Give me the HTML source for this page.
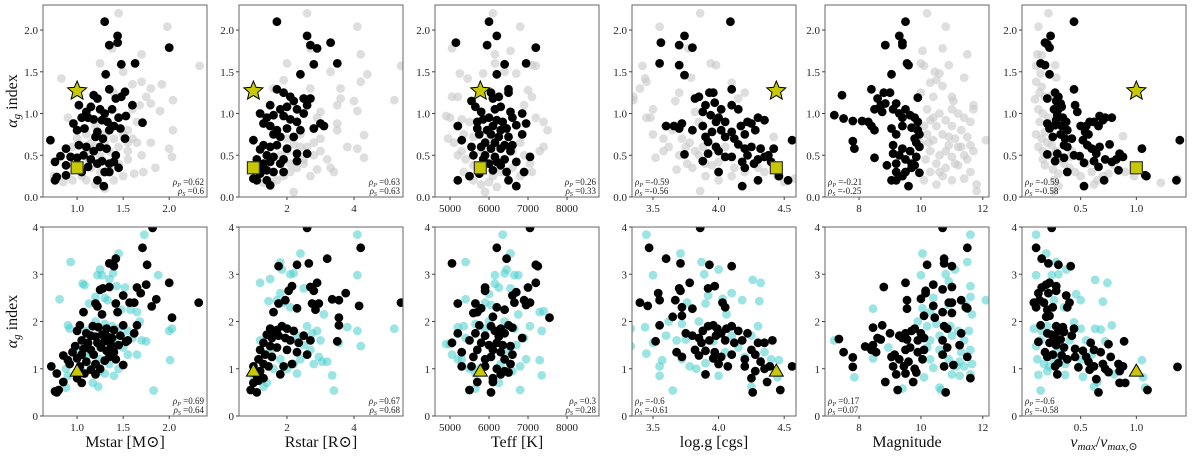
<!DOCTYPE html>
<html><head><meta charset="utf-8"><style>
html,body{margin:0;padding:0;background:#fff;}
svg{display:block;font-family:"Liberation Serif","DejaVu Serif",serif;}
</style></head><body>
<svg id="fig" width="1200" height="459" viewBox="0 0 1200 459" xmlns="http://www.w3.org/2000/svg"></svg>
<script>
// ---------- DATA ----------
const panelVars = ["Mstar","Rstar","Teff","logg","Magnitude","numax"];
const xRanges = [[0.63,2.41],[0.57,5.46],[4615,8820],[3.34,4.59],[6.9,12.2],[-0.027,1.446]];
const xTicks = [[1.0,1.5,2.0],[2,4],[5000,6000,7000,8000],[3.5,4.0,4.5],[8,10,12],[0.5,1.0]];
const xTickLabels = [["1.0","1.5","2.0"],["2","4"],["5000","6000","7000","8000"],["3.5","4.0","4.5"],["8","10","12"],["0.5","1.0"]];
const xTitles = ["Mstar [M\u2609]","Rstar [R\u2609]","Teff [K]","log.g [cgs]","Magnitude",""];
const topYTicks = [0,0.5,1.0,1.5,2.0];
const topYLabels = ["0.0","0.5","1.0","1.5","2.0"];
const botYTicks = [0,1,2,3,4];
const botYLabels = ["0","1","2","3","4"];
const sunX = [1.0,1.0,5777,4.44,null,1.0];
const sunStarY = 1.27;
const sunSquareY = 0.35;
const sunTriY = 0.95;
const topRhoP = ["0.62","0.63","0.26","-0.59","-0.21","-0.59"];
const topRhoS = ["0.6","0.63","0.33","-0.56","-0.25","-0.58"];
const botRhoP = ["0.69","0.67","0.3","-0.6","0.17","-0.6"];
const botRhoS = ["0.64","0.68","0.28","-0.61","0.07","-0.58"];

const topBlack0=[[1.30,2.10],[1.44,1.93],[1.35,1.82],[1.44,1.85],[2.0,1.79],[1.48,1.59],[1.63,1.60],[1.31,1.47],[1.35,1.29],[1.02,1.10],[1.18,1.22],[1.22,1.18],[1.48,1.20],[1.52,1.26],[1.42,1.18],[1.15,1.08],[1.10,1.02],[1.25,1.05],[1.30,1.00],[1.38,1.05],[1.60,1.10],[0.96,0.88],[1.05,0.95],[1.12,0.95],[1.18,0.93],[1.27,0.92],[1.33,0.90],[1.40,0.85],[1.45,0.95],[1.53,0.97],[1.71,0.89],[1.00,0.80],[1.08,0.82],[1.22,0.78],[1.35,0.80],[1.47,0.82],[1.20,0.72],[1.28,0.70],[1.52,0.70],[0.71,0.68],[1.02,0.62],[1.10,0.60],[1.18,0.55],[1.25,0.60],[1.32,0.58],[1.42,0.50],[0.88,0.58],[0.93,0.48],[1.00,0.47],[1.07,0.50],[1.15,0.45],[1.22,0.40],[1.35,0.40],[0.82,0.49],[0.88,0.38],[0.76,0.42],[1.12,0.36],[1.27,0.43],[1.45,0.35],[1.30,0.30],[1.35,0.30],[0.78,0.24],[0.76,0.20],[0.88,0.26],[1.22,0.20],[1.29,0.13],[1.40,0.42],[1.05,0.30]];
const topGrey0=[[1.45,2.20],[1.98,2.04],[1.38,1.78],[2.33,1.57],[2.04,1.16],[1.70,1.71],[0.83,1.42],[1.25,1.60],[1.92,1.35],[1.80,1.30],[1.68,1.10],[1.75,1.20],[1.60,1.05],[1.65,0.90],[1.55,0.80],[1.50,0.75],[1.40,0.70],[1.30,0.65],[1.20,0.60],[1.10,0.55],[0.95,0.60],[0.90,0.95],[1.0,0.70],[1.15,0.65],[1.25,0.50],[1.35,0.55],[1.45,0.60],[1.55,0.45],[1.65,0.65],[1.72,0.30],[1.85,0.35],[2.00,0.58],[2.03,0.48],[2.04,0.80],[1.90,1.03],[1.10,0.20],[1.20,0.15],[1.30,0.10],[1.40,0.20],[1.50,0.25],[0.75,0.25],[0.85,0.18],[0.95,0.20],[1.05,0.25],[1.15,0.35],[1.25,0.30],[1.35,0.35],[1.45,0.40],[1.55,0.55],[1.60,0.70],[1.70,0.50],[1.80,1.12],[1.60,1.35],[1.50,1.50],[1.40,1.25],[1.70,1.38],[1.20,0.85],[1.30,0.75],[1.10,0.75],[1.00,0.40],[1.80,0.65],[1.62,0.28],[1.12,0.45],[1.55,0.65]];
const topBlack1=[[1.7,2.1],[2.6,1.93],[2.7,1.82],[2.9,1.78],[3.3,1.85],[2.8,1.59],[3.5,1.60],[2.4,1.47],[1.7,1.29],[1.9,1.25],[2.1,1.20],[2.5,1.18],[2.7,1.18],[2.2,1.15],[1.5,1.10],[1.8,1.05],[2.0,1.08],[2.3,1.05],[2.5,1.00],[2.6,1.10],[1.2,1.00],[1.4,0.95],[1.6,0.98],[1.9,0.97],[2.1,0.93],[2.3,0.90],[3.0,0.88],[3.1,0.85],[1.3,0.88],[1.5,0.85],[1.7,0.80],[2.0,0.82],[2.4,0.80],[2.8,0.82],[1.6,0.75],[1.8,0.72],[2.2,0.72],[1.0,0.68],[1.3,0.62],[1.5,0.60],[1.7,0.62],[2.0,0.58],[2.3,0.52],[2.6,0.52],[1.2,0.57],[1.4,0.50],[1.6,0.48],[1.9,0.45],[1.1,0.45],[1.3,0.40],[1.5,0.42],[1.8,0.40],[2.3,0.43],[1.2,0.35],[1.4,0.32],[1.6,0.30],[1.9,0.30],[1.0,0.22],[1.1,0.20],[1.4,0.20],[1.5,0.14],[1.2,0.28]];
const topGrey1=[[2.6,2.20],[4.1,2.04],[2.7,1.78],[5.4,1.57],[5.2,1.16],[4.2,1.71],[2.0,1.60],[3.3,1.50],[4.4,1.47],[4.2,1.38],[4.0,1.15],[3.6,1.30],[3.5,1.10],[4.1,1.03],[3.5,0.88],[3.5,0.80],[4.3,0.74],[4.1,0.58],[4.3,0.47],[3.0,0.70],[2.8,0.65],[2.6,0.60],[2.4,0.60],[2.2,0.63],[2.0,0.55],[1.8,0.50],[3.2,0.45],[3.3,0.35],[3.4,0.30],[2.9,0.33],[2.5,0.40],[2.3,0.35],[2.1,0.30],[1.9,0.25],[1.7,0.20],[1.5,0.18],[1.3,0.17],[2.2,0.06],[2.7,0.25],[2.5,0.45],[2.8,0.50],[3.0,0.55],[2.0,0.70],[2.4,0.75],[2.9,0.95],[3.6,1.18],[3.0,1.02],[2.7,1.30],[1.9,1.40],[1.6,1.30],[3.8,0.60],[2.1,0.40]];
const topBlack2=[[6000,2.1],[6200,1.93],[5950,1.82],[5150,1.85],[7200,1.79],[6400,1.59],[6950,1.60],[6200,1.47],[6500,1.29],[6500,1.25],[5550,1.15],[6050,1.25],[6100,1.18],[6250,1.20],[5650,1.08],[5800,1.02],[6150,1.05],[6300,1.08],[6550,1.02],[6850,1.00],[5700,0.90],[5850,0.93],[6000,0.95],[6200,0.92],[6350,0.90],[6600,0.95],[6950,0.88],[5200,0.85],[5700,0.82],[5950,0.80],[6100,0.85],[6300,0.80],[6450,0.82],[6700,0.86],[5750,0.75],[6050,0.75],[6250,0.72],[6500,0.72],[6850,0.75],[5300,0.68],[5900,0.65],[6150,0.65],[6400,0.62],[6600,0.62],[5550,0.60],[5800,0.60],[6050,0.58],[6300,0.58],[6550,0.55],[5600,0.50],[5900,0.50],[6150,0.48],[6400,0.45],[6700,0.42],[7050,0.48],[5850,0.45],[6000,0.40],[6300,0.38],[5750,0.35],[6100,0.32],[6450,0.30],[6900,0.30],[5500,0.25],[5750,0.28],[6500,0.20],[6700,0.13],[5200,0.20],[6200,0.42]];
const topGrey2=[[6100,2.20],[6800,2.04],[5050,1.78],[7200,1.57],[7100,1.58],[6550,1.75],[6150,1.71],[6150,1.60],[5850,1.48],[6400,1.50],[6700,1.48],[5250,1.48],[5450,1.42],[5050,1.20],[5200,1.20],[7000,1.28],[7100,1.20],[6900,1.10],[4900,0.97],[5000,0.95],[5300,0.93],[5500,0.90],[7200,0.95],[7400,0.90],[7500,0.80],[4950,0.70],[5100,0.65],[5350,0.75],[5600,0.72],[7400,0.60],[7300,0.55],[5200,0.50],[5400,0.45],[5600,0.38],[7050,0.40],[5350,0.30],[5600,0.20],[5800,0.15],[6000,0.18],[6200,0.12],[5900,0.06],[6100,0.25],[6300,0.30],[6600,0.35],[6800,0.25],[7100,0.30],[6600,0.55],[6800,0.65],[6900,0.50],[5800,0.55],[6000,0.70],[5300,0.55]];
const topBlack3=[[4.09,2.10],[3.56,1.85],[3.7,1.82],[3.74,1.93],[3.8,1.79],[3.55,1.60],[3.7,1.58],[3.74,1.46],[4.1,1.29],[3.82,1.18],[3.85,1.20],[3.93,1.25],[3.96,1.25],[3.9,1.10],[3.97,1.13],[4.02,1.05],[4.1,1.10],[4.15,1.05],[3.94,0.98],[4.0,0.95],[3.98,0.90],[4.05,0.90],[3.88,1.02],[3.6,0.85],[3.66,0.85],[3.7,0.82],[3.72,0.88],[3.8,0.80],[3.88,0.85],[3.95,0.78],[4.02,0.80],[4.1,0.78],[4.17,0.85],[4.22,0.90],[4.25,0.88],[4.3,0.95],[4.35,0.92],[4.28,0.80],[4.2,0.75],[4.12,0.70],[4.05,0.72],[3.9,0.72],[3.92,0.66],[4.15,0.63],[4.25,0.60],[4.2,0.58],[4.32,0.58],[4.42,0.58],[3.98,0.60],[4.0,0.55],[3.92,0.52],[3.74,0.51],[4.05,0.48],[4.1,0.48],[4.22,0.50],[4.3,0.45],[4.35,0.48],[4.38,0.50],[3.88,0.43],[4.18,0.42],[4.27,0.40],[4.4,0.42],[4.2,0.35],[4.0,0.30],[4.46,0.25],[4.3,0.20],[4.53,0.20],[4.18,0.13],[4.56,0.68]];
const topGrey3=[[3.86,2.20],[3.55,2.04],[3.77,1.78],[3.42,1.57],[3.35,1.20],[3.35,1.16],[3.4,1.30],[3.44,1.42],[3.45,1.38],[3.5,1.05],[3.48,0.95],[3.45,0.95],[3.5,0.75],[3.58,0.70],[3.52,0.47],[3.58,0.55],[3.6,0.85],[3.65,0.80],[3.67,1.15],[3.7,1.25],[3.79,1.43],[3.94,1.60],[3.98,1.58],[4.1,1.37],[4.2,1.25],[4.15,1.18],[3.82,1.02],[3.85,0.90],[3.72,0.70],[3.78,0.65],[3.82,0.55],[3.85,0.50],[3.88,0.60],[3.76,0.40],[3.8,0.35],[3.9,0.40],[3.95,0.38],[4.0,0.42],[3.9,0.25],[3.86,0.07],[4.0,0.20],[4.1,0.25],[4.2,0.30],[4.3,0.35],[4.35,0.30],[4.45,0.25],[4.5,0.18],[4.58,0.22],[4.42,0.72],[3.68,0.33],[3.62,0.60],[3.7,0.50],[3.75,0.60],[4.05,0.60],[4.12,0.35]];
const topBlack4=[[9.5,2.1],[9.3,1.93],[9.4,1.82],[9.4,1.85],[8.85,1.82],[9.55,1.60],[9.6,1.58],[9.05,1.47],[7.45,1.22],[8.4,1.29],[8.8,1.25],[9.0,1.25],[9.9,1.19],[8.6,1.18],[8.7,1.10],[8.85,1.12],[9.2,1.12],[8.5,1.05],[8.75,1.02],[9.1,1.05],[9.3,1.00],[9.5,1.05],[9.4,0.95],[9.65,0.98],[9.8,0.95],[9.9,0.90],[7.2,0.98],[7.5,0.94],[7.8,0.91],[8.1,0.91],[8.3,0.90],[8.4,0.85],[8.5,0.80],[9.05,0.82],[9.4,0.85],[9.7,0.83],[9.9,0.80],[9.95,0.75],[9.8,0.70],[9.2,0.75],[7.8,0.67],[7.85,0.58],[9.1,0.62],[9.85,0.65],[9.95,0.60],[9.4,0.58],[9.65,0.55],[9.85,0.48],[8.5,0.47],[9.1,0.52],[9.3,0.50],[9.5,0.45],[9.7,0.40],[9.2,0.40],[8.9,0.38],[9.8,0.38],[9.5,0.30],[9.95,0.29],[9.2,0.30],[9.4,0.25],[9.05,0.20],[9.2,0.20],[9.6,0.13],[9.7,0.35]];
const topGrey4=[[10.2,2.20],[10.8,2.04],[10.05,1.75],[10.7,1.78],[11.5,1.71],[10.0,1.60],[10.1,1.57],[10.45,1.50],[10.9,1.58],[10.6,1.48],[11.4,1.43],[10.5,1.40],[10.3,1.37],[10.7,1.33],[11.0,1.20],[11.05,1.15],[10.0,1.25],[10.4,1.20],[11.7,1.10],[11.7,1.05],[10.2,1.05],[10.6,1.00],[11.2,1.00],[10.3,0.92],[10.8,0.92],[11.4,0.95],[11.6,0.90],[10.1,0.85],[10.5,0.85],[11.0,0.85],[11.3,0.80],[10.2,0.75],[10.7,0.75],[11.1,0.70],[11.5,0.72],[12.1,0.68],[10.0,0.65],[10.4,0.68],[10.9,0.62],[11.3,0.60],[11.7,0.55],[10.3,0.55],[10.6,0.50],[11.0,0.48],[11.5,0.45],[10.15,0.45],[10.5,0.40],[10.8,0.35],[11.2,0.38],[11.6,0.30],[10.3,0.30],[10.7,0.25],[11.0,0.20],[11.4,0.22],[10.1,0.20],[10.5,0.15],[11.8,0.15],[11.8,0.07],[10.9,0.72],[11.6,0.62],[10.6,0.30],[11.4,0.50],[10.8,0.55],[11.2,0.60],[10.4,0.95],[11.0,1.05],[10.25,0.65],[11.1,0.40]];
const topBlack5=[[0.44,2.10],[0.23,1.93],[0.18,1.85],[0.2,1.83],[0.22,1.79],[0.14,1.60],[0.18,1.58],[0.22,1.47],[0.44,1.29],[0.27,1.25],[0.20,1.18],[0.28,1.15],[0.30,1.20],[0.32,1.12],[0.26,1.05],[0.30,1.05],[0.33,1.08],[0.45,1.10],[0.47,1.02],[0.29,0.98],[0.34,0.95],[0.28,0.92],[0.37,0.90],[0.67,0.97],[0.72,0.95],[0.78,0.95],[0.2,0.88],[0.22,0.82],[0.27,0.86],[0.33,0.85],[0.38,0.80],[0.50,0.85],[0.55,0.85],[0.58,0.90],[0.62,0.90],[0.66,0.85],[0.7,0.92],[0.25,0.72],[0.32,0.75],[0.36,0.70],[0.42,0.70],[0.54,0.78],[0.57,0.75],[0.52,0.68],[0.35,0.62],[0.38,0.60],[0.56,0.62],[0.6,0.58],[0.67,0.60],[0.76,0.63],[0.2,0.51],[0.29,0.52],[0.44,0.50],[0.49,0.49],[0.64,0.52],[0.72,0.45],[0.78,0.42],[0.85,0.52],[0.88,0.48],[0.82,0.45],[0.27,0.43],[0.35,0.47],[0.62,0.43],[0.53,0.41],[0.66,0.36],[0.84,0.32],[0.38,0.30],[0.71,0.20],[0.53,0.13],[1.08,0.26],[1.09,0.25],[1.05,0.58],[1.36,0.20],[1.39,0.68]];
const topGrey5=[[0.21,2.20],[0.12,2.04],[0.11,1.71],[0.15,1.70],[0.1,1.57],[0.27,1.58],[0.14,1.48],[0.28,1.43],[0.1,1.38],[0.15,1.32],[0.13,1.25],[0.09,1.17],[0.18,1.20],[0.24,1.22],[0.12,1.05],[0.16,1.00],[0.21,0.95],[0.13,0.90],[0.18,0.78],[0.1,0.75],[0.15,0.70],[0.2,0.65],[0.24,0.62],[0.12,0.60],[0.16,0.55],[0.22,0.50],[0.28,0.55],[0.32,0.45],[0.35,0.40],[0.16,0.45],[0.18,0.38],[0.25,0.33],[0.3,0.28],[0.4,0.35],[0.45,0.30],[0.5,0.25],[0.26,0.20],[0.3,0.13],[0.26,0.07],[0.55,0.40],[0.6,0.30],[0.65,0.20],[0.62,0.15],[0.7,0.25],[0.75,0.28],[0.8,0.38],[0.9,0.30],[0.98,0.25],[1.22,0.17],[1.37,0.22],[0.88,0.73],[0.42,0.55],[0.35,0.85],[0.4,0.48]];

const botBlack0=[[1.82,3.98],[1.71,3.56],[1.42,3.33],[1.35,3.23],[1.40,3.17],[1.76,3.20],[1.35,2.73],[1.75,2.78],[1.65,2.72],[1.69,2.60],[1.50,2.55],[1.42,2.38],[1.25,2.67],[1.28,2.70],[2.00,2.82],[1.86,2.47],[1.62,2.40],[1.57,2.40],[2.32,2.40],[1.20,2.38],[1.22,2.32],[1.07,2.20],[1.27,2.15],[2.03,2.08],[1.81,2.32],[1.44,2.20],[1.50,1.92],[1.65,1.92],[1.03,1.92],[1.17,1.90],[1.23,1.88],[1.32,1.85],[1.40,1.82],[1.00,1.80],[1.10,1.75],[1.15,1.70],[1.20,1.68],[1.27,1.72],[1.33,1.68],[1.38,1.65],[1.47,1.70],[1.55,1.60],[1.62,1.75],[1.05,1.60],[1.12,1.55],[1.22,1.55],[1.30,1.58],[1.37,1.50],[1.45,1.50],[1.53,1.57],[0.98,1.48],[1.07,1.42],[1.15,1.40],[1.26,1.45],[1.32,1.38],[1.40,1.35],[0.95,1.35],[1.05,1.30],[1.18,1.30],[1.35,1.25],[1.42,1.20],[0.85,1.28],[0.90,1.18],[1.00,1.22],[1.10,1.15],[1.20,1.10],[1.30,1.17],[1.50,1.08],[0.92,1.10],[1.03,1.05],[1.15,0.98],[1.25,1.00],[0.72,1.05],[0.78,0.90],[1.08,0.90],[1.20,0.88],[0.85,0.72],[1.05,0.70],[0.76,0.52],[0.80,0.55],[0.78,0.50],[1.00,0.80]];
const botCyan0=[[1.73,3.84],[1.45,3.44],[0.93,3.26],[1.39,3.02],[1.25,3.10],[1.22,2.98],[1.27,2.98],[1.35,2.90],[1.88,2.98],[1.06,2.80],[1.08,2.77],[0.81,2.47],[1.43,2.75],[1.52,2.72],[1.33,2.45],[1.30,2.50],[1.20,2.52],[1.13,2.38],[1.48,2.25],[1.58,2.25],[1.65,2.20],[1.68,2.00],[1.20,2.00],[1.30,1.95],[0.90,1.92],[0.92,1.85],[1.38,1.90],[1.45,1.85],[1.55,1.80],[2.00,1.80],[2.03,1.85],[1.10,1.80],[1.60,1.65],[1.70,1.60],[1.75,1.58],[1.40,1.60],[1.50,1.45],[1.25,1.45],[1.35,1.35],[1.00,1.40],[1.15,1.35],[1.55,1.30],[1.65,1.30],[1.25,1.20],[1.35,1.10],[1.45,1.00],[1.30,0.90],[1.40,0.85],[1.25,0.95],[1.15,1.05],[0.88,1.00],[0.90,0.85],[0.88,0.60],[1.17,0.70],[1.23,0.62],[2.01,1.18],[1.83,0.54],[1.05,0.95],[1.10,1.25]];
const botBlack1=[[2.6,3.98],[4.2,3.56],[3.2,3.33],[2.65,3.23],[2.3,3.20],[1.75,3.17],[2.9,2.82],[2.7,2.73],[2.8,2.65],[3.75,2.60],[3.35,2.47],[3.55,2.45],[4.15,2.33],[5.4,2.40],[2.75,2.38],[2.95,2.38],[2.3,2.28],[2.85,2.25],[2.05,2.65],[2.15,2.75],[1.95,2.45],[1.75,2.38],[1.6,2.20],[3.55,2.08],[3.55,1.92],[1.5,1.85],[1.6,1.78],[1.7,1.82],[1.85,1.90],[2.0,1.85],[2.2,1.80],[2.5,1.70],[2.7,1.60],[1.4,1.72],[1.55,1.65],[1.75,1.70],[1.95,1.65],[2.1,1.60],[2.35,1.55],[3.5,1.58],[1.3,1.55],[1.5,1.48],[1.7,1.45],[2.0,1.40],[2.3,1.35],[2.6,1.30],[1.2,1.40],[1.35,1.30],[1.55,1.25],[2.15,1.10],[1.9,1.05],[1.8,0.88],[1.15,1.20],[1.3,1.10],[1.45,1.05],[1.0,1.05],[1.2,0.95],[1.1,0.85],[1.0,0.70],[1.15,0.75],[0.92,0.55],[1.1,0.50],[1.3,0.80]];
const botCyan1=[[4.1,3.84],[2.4,3.44],[1.8,3.25],[1.85,3.10],[2.1,3.00],[2.2,3.02],[4.1,2.98],[1.5,2.90],[1.2,2.82],[2.5,2.70],[1.8,2.60],[1.9,2.40],[1.45,2.43],[1.7,2.45],[2.1,2.30],[3.1,2.15],[3.8,1.88],[4.1,1.80],[5.2,1.85],[2.9,1.80],[2.6,1.90],[2.75,1.75],[3.0,1.60],[2.3,1.70],[2.5,1.50],[2.7,1.40],[2.95,1.25],[3.05,1.15],[3.2,1.15],[2.4,1.20],[2.2,1.10],[2.0,1.00],[2.3,0.90],[1.6,1.00],[1.8,1.20],[1.4,0.70],[1.3,0.62],[3.35,0.86],[3.4,0.54],[4.2,1.48],[3.55,1.55],[1.2,1.60],[1.5,1.35],[2.8,1.10],[1.0,0.85]];
const botBlack2=[[7050,3.98],[6200,3.56],[6450,3.33],[5050,3.23],[7200,3.20],[7250,3.17],[5900,2.72],[5900,2.65],[7200,2.82],[7000,2.72],[6700,2.62],[6600,2.55],[6900,2.45],[5200,2.38],[5650,2.38],[5800,2.28],[6200,2.30],[6400,2.25],[6650,2.40],[6950,2.35],[7050,2.40],[5600,2.18],[5700,2.20],[7550,2.08],[6100,2.10],[5750,1.92],[6050,1.90],[6300,1.85],[6500,1.92],[6600,1.87],[5200,1.75],[5650,1.75],[5900,1.70],[6150,1.80],[6250,1.68],[6400,1.75],[6850,1.65],[5500,1.60],[5800,1.55],[6000,1.50],[6200,1.55],[6350,1.50],[6550,1.48],[5050,1.55],[5700,1.40],[6100,1.40],[6300,1.35],[6600,1.30],[5300,1.35],[5600,1.25],[5900,1.20],[6050,1.25],[6400,1.20],[6550,1.10],[5300,1.05],[5550,1.05],[5900,1.05],[6200,1.00],[6400,0.95],[6500,0.92],[6100,0.80],[5700,0.72],[6100,0.72],[5500,0.55],[6050,0.50],[6300,0.88]];
const botCyan2=[[6350,3.84],[6550,3.44],[5400,3.26],[6450,3.10],[6400,3.02],[6150,2.98],[6750,2.98],[6650,2.98],[6150,2.80],[6250,2.72],[6550,2.70],[6000,2.58],[5400,2.47],[5900,2.40],[6050,2.35],[7400,2.22],[7300,2.20],[6750,2.15],[6000,2.00],[6400,2.00],[5900,1.85],[5200,1.88],[5350,1.90],[5650,1.95],[4900,1.52],[5000,1.52],[5400,1.65],[6650,1.85],[7050,1.90],[7350,1.80],[6900,1.65],[6700,1.50],[6450,1.35],[5200,1.20],[5050,1.30],[5300,1.20],[5500,1.00],[5750,1.00],[5650,0.90],[6300,1.10],[6800,1.05],[6950,1.20],[7300,1.18],[7350,0.86],[6800,0.55],[5650,0.58],[6250,0.70],[6600,0.95]];
const botBlack3=[[3.86,3.98],[3.47,3.56],[3.6,3.33],[3.71,3.23],[3.93,3.20],[4.1,3.17],[3.78,2.82],[3.92,2.70],[3.97,2.75],[3.7,2.70],[3.71,2.65],[3.54,2.60],[3.55,2.45],[3.67,2.45],[3.4,2.40],[3.46,2.33],[3.72,2.30],[4.03,2.40],[4.05,2.30],[3.8,2.27],[3.65,2.10],[3.72,2.12],[3.55,1.92],[3.75,1.75],[3.8,1.70],[3.85,1.65],[3.88,1.80],[3.92,1.90],[3.96,1.92],[3.99,1.85],[4.02,1.75],[4.06,1.85],[4.1,1.90],[4.15,1.80],[3.87,1.55],[3.93,1.60],[3.98,1.70],[4.05,1.60],[4.12,1.55],[4.18,1.60],[4.22,1.75],[4.3,1.55],[4.35,1.55],[4.41,1.60],[3.82,1.40],[3.9,1.38],[3.97,1.35],[4.02,1.25],[4.1,1.30],[4.25,1.40],[4.28,1.30],[3.52,1.58],[3.68,1.35],[3.72,1.25],[3.85,1.28],[4.2,1.20],[4.32,1.15],[3.96,1.22],[4.0,1.10],[4.07,1.05],[4.2,1.05],[4.35,1.00],[4.39,1.05],[3.9,0.88],[4.25,0.80],[4.37,0.72],[4.26,0.50],[4.47,0.55],[4.56,1.05],[4.28,0.95]];
const botCyan3=[[3.45,3.84],[3.71,3.44],[3.87,3.26],[3.89,3.00],[4.0,3.10],[4.26,2.88],[4.32,2.82],[3.5,2.98],[3.92,2.55],[4.1,2.60],[4.18,2.45],[4.31,2.43],[3.76,2.40],[3.9,2.38],[4.03,2.48],[3.62,2.00],[3.72,1.95],[3.85,2.00],[4.06,2.15],[3.33,1.85],[3.44,1.88],[3.6,1.70],[3.68,1.60],[3.75,1.62],[3.5,1.55],[3.33,1.48],[3.45,1.32],[3.55,1.05],[3.55,0.85],[3.57,1.18],[3.72,1.20],[3.78,1.05],[3.83,1.00],[3.9,1.12],[4.0,0.85],[4.05,1.35],[4.1,1.70],[4.2,1.25],[4.25,1.70],[4.3,1.90],[4.35,1.35],[4.4,1.20],[4.46,1.18],[4.45,0.82],[3.65,0.54],[4.25,0.62],[4.15,1.45],[3.96,1.58]];
const botBlack4=[[10.7,3.98],[11.5,3.56],[10.75,3.33],[10.75,3.23],[10.2,3.20],[11.0,3.17],[9.5,2.82],[8.8,2.73],[10.4,2.78],[10.15,2.65],[10.15,2.60],[10.7,2.68],[11.0,2.73],[9.55,2.45],[10.0,2.48],[10.9,2.40],[11.0,2.40],[11.3,2.45],[11.45,2.30],[11.5,2.28],[9.55,2.27],[10.4,2.33],[10.7,2.20],[11.0,2.18],[10.1,2.12],[10.45,2.08],[8.45,1.87],[8.75,1.92],[10.75,1.90],[10.85,1.85],[9.0,1.75],[9.3,1.70],[9.5,1.75],[9.7,1.80],[9.8,1.85],[10.0,1.75],[8.2,1.47],[8.45,1.50],[8.6,1.65],[8.7,1.62],[9.4,1.65],[9.55,1.62],[9.9,1.60],[10.1,1.65],[10.7,1.60],[11.3,1.75],[7.35,1.63],[7.5,1.35],[8.4,1.40],[8.55,1.35],[9.15,1.30],[9.5,1.40],[9.65,1.45],[9.9,1.35],[10.1,1.40],[10.85,1.45],[11.25,1.50],[7.8,1.24],[7.8,1.04],[9.05,1.25],[9.3,1.20],[9.6,1.15],[10.05,1.20],[10.7,1.30],[11.5,1.25],[9.1,1.05],[9.45,1.05],[9.8,1.00],[10.75,1.05],[11.05,1.08],[9.2,0.88],[9.5,0.90],[9.85,0.92],[8.85,0.72],[9.75,0.72],[11.6,0.80],[9.25,0.55],[10.8,0.50]];
const botCyan4=[[11.6,3.84],[10.05,3.44],[11.5,3.26],[11.1,3.10],[10.0,2.98],[10.8,3.00],[10.9,2.85],[11.6,2.75],[10.4,2.50],[11.6,2.52],[12.1,2.45],[10.9,2.35],[8.45,2.27],[10.05,2.28],[11.45,2.35],[11.65,2.15],[10.3,2.20],[10.5,1.95],[10.2,1.90],[9.9,2.00],[10.95,1.90],[11.2,1.80],[11.55,1.80],[10.3,1.60],[10.6,1.70],[11.0,1.70],[11.4,1.60],[7.2,1.60],[10.2,1.45],[10.6,1.40],[11.3,1.35],[11.6,1.40],[8.95,1.45],[10.3,1.20],[10.9,1.20],[11.25,1.15],[11.65,1.10],[10.4,1.02],[11.15,1.05],[11.4,1.05],[11.0,0.88],[11.25,0.85],[10.1,0.82],[7.85,0.82],[8.45,1.22],[9.4,0.58],[10.6,0.60],[10.65,0.55],[11.6,0.88]];
const botBlack5=[[0.24,3.98],[0.1,3.56],[0.15,3.33],[0.21,3.23],[0.41,3.17],[0.3,3.20],[0.28,2.75],[0.22,2.82],[0.19,2.78],[0.15,2.72],[0.12,2.60],[0.21,2.60],[0.28,2.65],[0.37,2.55],[0.08,2.40],[0.13,2.45],[0.17,2.40],[0.1,2.30],[0.2,2.25],[0.25,2.30],[0.38,2.30],[0.4,2.40],[0.19,2.10],[0.22,2.12],[0.14,1.92],[0.28,1.90],[0.34,1.88],[0.44,1.85],[0.2,1.75],[0.24,1.72],[0.3,1.80],[0.35,1.78],[0.27,1.65],[0.32,1.62],[0.42,1.70],[0.59,1.55],[0.62,1.40],[0.75,1.52],[0.89,1.58],[0.12,1.57],[0.22,1.55],[0.28,1.50],[0.35,1.45],[0.45,1.42],[0.18,1.35],[0.25,1.30],[0.33,1.28],[0.52,1.38],[0.55,1.25],[0.68,1.35],[0.2,1.25],[0.38,1.20],[0.45,1.25],[0.57,1.15],[0.62,1.05],[0.7,1.10],[0.77,1.25],[0.27,1.05],[0.48,1.03],[0.58,0.98],[0.72,1.00],[0.75,0.93],[0.84,1.10],[0.85,0.95],[0.88,1.05],[0.29,0.88],[0.64,0.78],[0.85,0.70],[0.9,0.70],[0.66,0.50],[1.1,0.55],[1.37,1.04],[0.3,1.12]];
const botCyan5=[[0.1,3.84],[0.19,3.44],[0.28,3.26],[0.1,2.98],[0.24,2.98],[0.3,3.00],[0.37,3.10],[0.63,2.88],[0.74,2.82],[0.7,2.42],[0.46,2.58],[0.5,2.45],[0.26,2.45],[0.35,2.30],[0.08,1.85],[0.15,1.80],[0.2,1.90],[0.44,1.98],[0.5,1.85],[0.63,1.85],[0.68,1.83],[0.78,1.92],[0.1,1.48],[0.14,1.60],[0.24,1.55],[0.4,1.60],[0.55,1.60],[0.72,1.58],[0.11,1.20],[0.17,1.10],[0.22,1.05],[0.26,1.20],[0.36,1.10],[0.5,1.20],[0.6,1.30],[0.12,0.87],[0.2,0.95],[0.36,0.87],[0.52,0.83],[0.62,0.62],[0.65,0.72],[0.8,0.88],[1.05,1.18],[1.06,0.82],[1.08,0.60],[0.14,0.54],[0.3,1.40]];

const topBlackSets=[topBlack0,topBlack1,topBlack2,topBlack3,topBlack4,topBlack5];
const topGreySets=[topGrey0,topGrey1,topGrey2,topGrey3,topGrey4,topGrey5];
const botBlackSets=[botBlack0,botBlack1,botBlack2,botBlack3,botBlack4,botBlack5];
const botCyanSets=[botCyan0,botCyan1,botCyan2,botCyan3,botCyan4,botCyan5];

// ---------- LAYOUT ----------
const NS="http://www.w3.org/2000/svg";
const svg=document.getElementById('fig');
const panelLeft=[43,239,435,632,825,1022];
const panelW=164;
const rows=[{top:5,bottom:197,ymin:0,ymax:2.3},{top:227,bottom:416,ymin:0,ymax:4.0}];

function el(tag,attrs,parent){const e=document.createElementNS(NS,tag);for(const k in attrs)e.setAttribute(k,attrs[k]);(parent||svg).appendChild(e);return e;}
function xScale(i,v){const r=xRanges[i];return panelLeft[i]+(v-r[0])/(r[1]-r[0])*panelW;}
function yScale(row,v){const R=rows[row];return R.bottom-(v-R.ymin)/(R.ymax-R.ymin)*(R.bottom-R.top);}

function starPath(cx,cy,R){const r=R*0.45;let d="";for(let k=0;k<10;k++){const a=-Math.PI/2+k*Math.PI/5;const rr=k%2?r:R;d+=(k?"L":"M")+(cx+rr*Math.cos(a)).toFixed(1)+","+(cy+rr*Math.sin(a)).toFixed(1);}return d+"Z";}

for(let row=0;row<2;row++){
  const R=rows[row];
  for(let i=0;i<6;i++){
    const g=el('g',{});
    
    
    const clipId='clip'+row+i;
    const cp=el('clipPath',{id:clipId},g);
    el('rect',{x:panelLeft[i],y:R.top,width:panelW,height:R.bottom-R.top},cp);
    const pts=el('g',{'clip-path':'url(#'+clipId+')'},g);
    const bg=row?botCyanSets[i]:topGreySets[i];
    const fg=row?botBlackSets[i]:topBlackSets[i];
    for(const p of bg){
      const c=el('circle',{cx:xScale(i,p[0]).toFixed(1),cy:yScale(row,p[1]).toFixed(1),r:4.4,fill:row?'rgba(72,206,206,0.55)':'rgba(200,200,200,0.6)'},pts);
      
      
    }
    for(const p of fg){
      const c=el('circle',{cx:xScale(i,p[0]).toFixed(1),cy:yScale(row,p[1]).toFixed(1),r:4.4,fill:'#000'},pts);
      
      
    }
    if(sunX[i]!==null){
      const sx=xScale(i,sunX[i]);
      if(row===0){
        const st=el('path',{d:starPath(sx,yScale(0,sunStarY),10),fill:'#c8c800',stroke:'#000','stroke-width':1},g);
        
        
        const sq=el('rect',{x:sx-6,y:yScale(0,sunSquareY)-6,width:12,height:12,fill:'#c8c800',stroke:'#333','stroke-width':1.2},g);
        
        
      } else {
        const ty=yScale(1,sunTriY);
        const tr=el('path',{d:'M'+sx+','+(ty-7)+'L'+(sx+7)+','+(ty+5)+'L'+(sx-7)+','+(ty+5)+'Z',fill:'#c8c800',stroke:'#000','stroke-width':1},g);
        
        
      }
    }
    const frame=el('rect',{x:panelLeft[i],y:R.top,width:panelW,height:R.bottom-R.top,fill:'none',stroke:'#666','stroke-width':1},g);
    
    
    // x ticks
    for(let t=0;t<xTicks[i].length;t++){
      const x=xScale(i,xTicks[i][t]);
      el('line',{x1:x,x2:x,y1:R.bottom,y2:R.bottom+3,stroke:'#444'},g);
      const tx=el('text',{x:x,y:R.bottom+15,'font-size':11,'text-anchor':'middle',fill:'#222'},g);
      tx.textContent=xTickLabels[i][t];
      
      
    }
    // y ticks
    const yt=row?botYTicks:topYTicks, yl=row?botYLabels:topYLabels;
    for(let t=0;t<yt.length;t++){
      const y=yScale(row,yt[t]);
      el('line',{x1:panelLeft[i]-3,x2:panelLeft[i],y1:y,y2:y,stroke:'#444'},g);
      const tx=el('text',{x:panelLeft[i]-5,y:y+4,'font-size':11,'text-anchor':'end',fill:'#222'},g);
      tx.textContent=yl[t];
      
      
    }
    // correlation text
    const right=i<3;
    const tx0=right?panelLeft[i]+panelW-3:panelLeft[i]+3;
    const rp=row?botRhoP[i]:topRhoP[i], rs=row?botRhoS[i]:topRhoS[i];
    const lines=[['P',rp,R.bottom-12],['S',rs,R.bottom-3]];
    for(const L of lines){
      const t=el('text',{x:tx0,y:L[2],'font-size':9,'text-anchor':right?'end':'start',fill:'#222'},g);
      t.innerHTML='<tspan font-style="italic">\u03C1</tspan><tspan font-size="6" dy="2" font-style="italic">'+L[0]+'</tspan><tspan dy="-2"> ='+L[1]+'</tspan>';
      
      
    }
    // x title
    if(row===1){
      const cx=panelLeft[i]+panelW/2;
      const t=el('text',{x:cx,y:447,'font-size':16,'text-anchor':'middle',fill:'#111'},g);
      if(i===5){
        t.innerHTML='<tspan font-style="italic">\u03BD</tspan><tspan font-size="11" dy="3" font-style="italic">max</tspan><tspan dy="-3">/</tspan><tspan font-style="italic">\u03BD</tspan><tspan font-size="11" dy="3" font-style="italic">max,\u2299</tspan>';
      } else {
        t.textContent=xTitles[i].replace('\u2609','\u2299');
      }
      
      
    }
    if(i===0){
      const cy=(R.top+R.bottom)/2;
      const t=el('text',{x:0,y:0,'font-size':16,'text-anchor':'middle',fill:'#111',transform:'translate(17,'+cy+') rotate(-90)'},g);
      t.innerHTML='<tspan font-style="italic">\u03B1</tspan><tspan font-size="11" dy="3" font-style="italic">g</tspan><tspan dy="-3"> index</tspan>';
      
      
    }
  }
}
</script>
</body></html>
